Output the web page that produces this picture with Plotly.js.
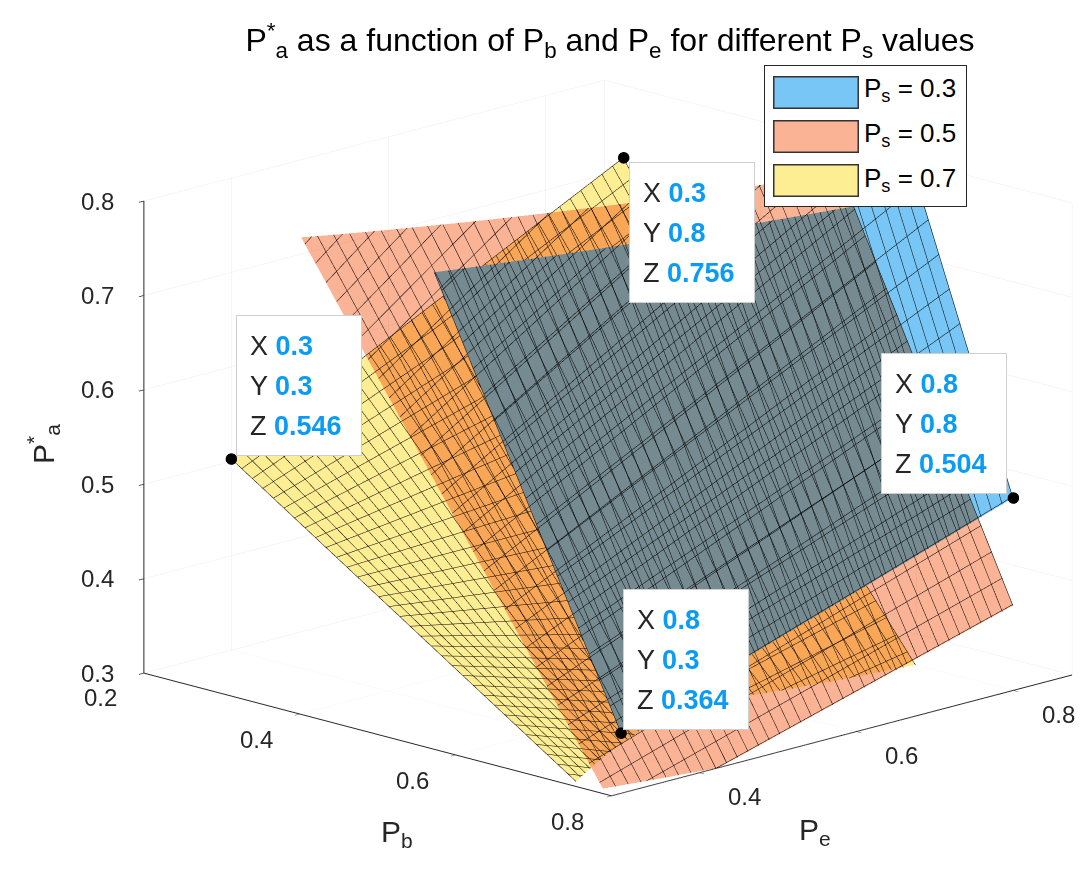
<!DOCTYPE html>
<html>
<head>
<meta charset="utf-8">
<script src="https://cdn.plot.ly/plotly-3.0.1.min.js"></script>
<style>
  html, body { margin: 0; padding: 0; background: #fff; }
  #chart { width: 1089px; height: 876px; }
  /* overlapping surfaces darken each other, like the MATLAB render */
  .gl-container canvas { mix-blend-mode: multiply; }
</style>
</head>
<body>
<div id="chart"></div>
<script>
// ── Data ────────────────────────────────────────────────────────────────
const pb = [0.3, 0.55, 0.8];          // P_b grid (x)
const pe = [0.3, 0.55, 0.8];          // P_e grid (y)
const psLabels = ['0.3', '0.5', '0.7'];

// rows follow pe, columns follow pb (values above 0.8 are cut by the z limit)
const zBlue = [
  [1.274, 0.819, 0.364],
  [1.514, 0.974, 0.434],
  [1.754, 1.129, 0.504]
];
const zOrange = [
  [0.916, 0.593, 0.270],
  [1.116, 0.723, 0.330],
  [1.315, 0.853, 0.390]
];
const zYellow = [
  [0.546, 0.407, 0.268],
  [0.651, 0.350, 0.180],
  [0.756, 0.440, 0.160]
];

// data tips
const tipX = [0.3, 0.3, 0.8, 0.8];
const tipY = [0.3, 0.8, 0.8, 0.3];
const tipZ = [0.546, 0.756, 0.504, 0.364];

const pbTicks = [0.2, 0.4, 0.6, 0.8];
const peTicks = [0.4, 0.6, 0.8];
const paTicks = [0.3, 0.4, 0.5, 0.6, 0.7, 0.8];

// ── Styling ─────────────────────────────────────────────────────────────
const COL_BLUE = '#78c6f6';
const COL_ORANGE = '#fbb396';
const COL_YELLOW = '#fdee93';
const INK = '#262626';
const TIP_BLUE = '#0a9cf5';
const FONT = 'Liberation Sans, Arial, sans-serif';

const W = 1089, H = 876;
const px = x => x / W;
const py = y => 1 - y / H;

const camera = {
  eye: { x: 0.78, y: -0.78, z: 0.3 },
  center: { x: 0, y: 0, z: 0 },
  up: { x: 0, y: 0, z: 1 },
  projection: { type: 'orthographic' }
};
const ranges = { x: [0.2, 0.8], y: [0.288, 0.875], z: [0.3, 0.8] };
const domain = { x: [0.117, 1.0], y: [0.0, 1.0] };

const hiddenAxis = r => ({ visible: false, range: r, showspikes: false });
const shownAxis = (r, tv) => ({
  range: r, tickvals: tv, showticklabels: false,
  showline: true, linecolor: INK, linewidth: 2,
  ticks: 'outside', ticklen: 7, tickwidth: 1.5, tickcolor: INK,
  showgrid: true, gridcolor: 'rgba(0,0,0,0.07)', gridwidth: 1,
  zeroline: false, showbackground: false, showspikes: false,
  title: { text: '' }
});

function sceneLayout(withAxes) {
  return {
    domain: domain,
    camera: camera,
    aspectmode: 'manual',
    aspectratio: { x: 1.51, y: 1.487, z: 1.117 },
    bgcolor: 'rgba(0,0,0,0)',
    xaxis: withAxes ? shownAxis(ranges.x, pbTicks) : hiddenAxis(ranges.x),
    yaxis: withAxes ? shownAxis(ranges.y, peTicks) : hiddenAxis(ranges.y),
    zaxis: withAxes ? shownAxis(ranges.z, paTicks) : hiddenAxis(ranges.z)
  };
}

const gridLines = { show: true, start: 0.3, end: 0.8, size: 0.0135, color: '#000', width: 1, highlight: false };

const surf = (z, color, scene) => ({
  type: 'surface', scene: scene,
  x: pb, y: pe, z: z,
  colorscale: [[0, color], [1, color]], showscale: false,
  lighting: { ambient: 1, diffuse: 0, specular: 0, roughness: 1, fresnel: 0 },
  contours: { x: gridLines, y: gridLines, z: { show: false, highlight: false } },
  hoverinfo: 'skip'
});

// yellow and blue share a scene (depth hides yellow behind blue);
// orange sits in its own canvas and multiplies onto both
const traces = [
  surf(zYellow, COL_YELLOW, 'scene'),
  surf(zBlue, COL_BLUE, 'scene'),
  surf(zOrange, COL_ORANGE, 'scene2'),
  {
    type: 'scatter3d', mode: 'markers', scene: 'scene3',
    x: tipX, y: tipY, z: tipZ,
    marker: { size: 7, color: '#000', line: { color: '#fff', width: 1 } },
    hoverinfo: 'skip'
  }
];

// ── Scene annotations: tick labels and data tips ────────────────────────
// anchor points are kept just inside the box so none is dropped at the edge
const inside = (v, r) => Math.min(Math.max(v, r[0] + 1e-4), r[1] - 1e-4);
const sceneAnn = [];
const tickFont = { family: FONT, size: 24, color: INK };
paTicks.forEach(v => sceneAnn.push({
  x: inside(ranges.x[0], ranges.x), y: inside(ranges.y[0], ranges.y), z: inside(v, ranges.z),
  text: v.toFixed(1), showarrow: false,
  xanchor: 'right', yanchor: 'middle', xshift: -28, yshift: 0, font: tickFont
}));
pbTicks.forEach(v => sceneAnn.push({
  x: inside(v, ranges.x), y: inside(ranges.y[0], ranges.y), z: inside(ranges.z[0], ranges.z),
  text: v.toFixed(1), showarrow: false,
  xanchor: 'center', yanchor: 'middle', xshift: -44, yshift: -26 + (v === 0.2 ? 2 : 0), font: tickFont
}));
peTicks.forEach(v => sceneAnn.push({
  x: inside(ranges.x[1], ranges.x), y: inside(v, ranges.y), z: inside(ranges.z[0], ranges.z),
  text: v.toFixed(1), showarrow: false,
  xanchor: 'center', yanchor: 'middle', xshift: 45, yshift: -24, font: tickFont
}));

// box top-left offset from its point, in screen pixels
const tipBoxOff = [[4, -144], [5, 4], [-132, -145], [2, -144]];
tipX.forEach((x, i) => {
  const [dx, dy] = tipBoxOff[i];
  const base = { x: x, y: tipY[i], z: tipZ[i], showarrow: false };
  sceneAnn.push(Object.assign({}, base, {
    text: '\u00a0', xanchor: 'left', yanchor: 'top', xshift: dx, yshift: -dy,
    width: 124, height: 139, bgcolor: '#fff', bordercolor: '#cfcfcf', borderwidth: 1, borderpad: 0
  }));
  const vals = [tipX[i], tipY[i], tipZ[i]];
  ['X', 'Y', 'Z'].forEach((lab, k) => {
    sceneAnn.push(Object.assign({}, base, {
      text: lab + ' <span style="color:' + TIP_BLUE + '"><b>' + vals[k] + '</b></span>',
      xanchor: 'left', yanchor: 'middle', xshift: dx + 12, yshift: -(dy + 31 + 40 * k),
      font: { family: FONT, size: 27, color: INK }
    }));
  });
});

// ── Legend and axis titles (paper annotations) ──────────────────────────
const legColors = [COL_BLUE, COL_ORANGE, COL_YELLOW];
const annotations = [
  { xref: 'paper', yref: 'paper', x: px(764), y: py(65), xanchor: 'left', yanchor: 'top',
    text: '\u00a0', width: 201, height: 140, bgcolor: '#fff', bordercolor: INK, borderwidth: 1, borderpad: 0, showarrow: false }
];
psLabels.forEach((lab, i) => {
  const yc = 92 + 44.5 * i;
  annotations.push({ xref: 'paper', yref: 'paper', x: px(773), y: py(yc), xanchor: 'left', yanchor: 'middle',
    text: '\u00a0', width: 83, height: 30, bgcolor: legColors[i], bordercolor: '#333', borderwidth: 1.5, borderpad: 0, showarrow: false });
  annotations.push({ xref: 'paper', yref: 'paper', x: px(862), y: py(yc - 2), xanchor: 'left', yanchor: 'middle',
    text: 'P<sub>s</sub> = ' + lab, font: { family: FONT, size: 26, color: '#000' }, showarrow: false });
});
annotations.push(
  { xref: 'paper', yref: 'paper', x: px(397), y: py(854), text: 'P<sub>b</sub>', showarrow: false,
    font: { family: FONT, size: 30, color: INK } },
  { xref: 'paper', yref: 'paper', x: px(833), y: py(852), text: 'P<sub>e</sub>', showarrow: false,
    font: { family: FONT, size: 30, color: INK } },
  { xref: 'paper', yref: 'paper', x: px(20), y: py(444), text: 'P<sup>*</sup><sub>a</sub>', textangle: -90, showarrow: false,
    font: { family: FONT, size: 30, color: INK } }
);

const layout = {
  width: W, height: H,
  margin: { l: 0, r: 0, t: 0, b: 0 },
  paper_bgcolor: '#fff',
  showlegend: false,
  title: {
    text: 'P<sup>*</sup><sub>a</sub> as a function of P<sub>b</sub> and P<sub>e</sub> for different P<sub>s</sub> values',
    x: px(610), xanchor: 'center', y: py(40), yanchor: 'middle', yref: 'container',
    font: { family: FONT, size: 32, color: '#000' }
  },
  scene: Object.assign(sceneLayout(true), { annotations: sceneAnn }),
  scene2: sceneLayout(false),
  scene3: sceneLayout(false),
  annotations: annotations
};

Plotly.newPlot('chart', traces, layout, { displayModeBar: false });
</script>
</body>
</html>
